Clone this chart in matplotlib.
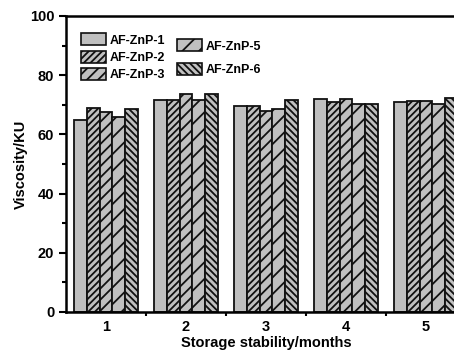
import matplotlib.pyplot as plt
import numpy as np
from matplotlib.patches import Patch

plt.rcParams['font.family'] = ['Liberation Sans', 'DejaVu Sans']
plt.rcParams['font.weight'] = 'bold'
plt.rcParams['hatch.linewidth'] = 1.3
plt.rcParams['hatch.color'] = '#111111'

months = [1, 2, 3, 4, 5]
series = ['AF-ZnP-1', 'AF-ZnP-2', 'AF-ZnP-3', 'AF-ZnP-5', 'AF-ZnP-6']
znp1 = [64.7, 71.5, 69.5, 72.0, 71.1]
znp2 = [68.9, 71.5, 69.7, 71.0, 71.4]
znp3 = [67.7, 73.8, 68.0, 72.0, 71.4]
znp5 = [65.9, 71.5, 68.7, 70.1, 70.3]
znp6 = [68.5, 73.8, 71.5, 70.2, 72.2]

values = [znp1, znp2, znp3, znp5, znp6]
hatches = ['', '/////', '///', '//', '\\\\\\\\\\']
colors = '#c0c0c0'

fig = plt.figure(figsize=(4.54, 3.5), dpi=100)
ax = fig.add_axes([0.1454, 0.1086, 0.881, 0.8457])

width = 0.16
x = np.array(months)
handles = []
for i, (vals, h) in enumerate(zip(values, hatches)):
    pos = x + (i - 2) * width
    ax.bar(pos, vals, width, color=colors, edgecolor='#111111', hatch=h, linewidth=1.3)
    handles.append(Patch(facecolor=colors, edgecolor='#111111', hatch=h, linewidth=1.2, label=series[i]))

ax.set_xlim(0.5, 5.5)
ax.set_ylim(0, 100)
ax.set_xticks(months)
ax.set_xticks([1.5, 2.5, 3.5, 4.5], minor=True)
ax.tick_params(axis='x', which='major', length=0, labelsize=10.5, pad=6)
ax.tick_params(axis='x', which='minor', length=3, width=1.5, direction='out')
ax.set_yticks(range(0, 101, 20))
ax.set_yticks(range(10, 100, 20), minor=True)
ax.tick_params(axis='y', which='major', length=5, width=1.5, labelsize=10.5)
ax.tick_params(axis='y', which='minor', length=3, width=1.5)
for s in ax.spines.values():
    s.set_linewidth(1.8)

ax.set_xlabel('Storage stability/months', fontsize=10.5, fontweight='bold', labelpad=1)
ax.set_ylabel('Viscosity/KU', fontsize=10.5, fontweight='bold', labelpad=1)

leg1 = ax.legend(handles=handles[:3], loc='upper left', bbox_to_anchor=(0.025, 0.958),
                 frameon=False, fontsize=9, handlelength=2.0, handleheight=1.1,
                 labelspacing=0.32, handletextpad=0.3, borderaxespad=0)
ax.add_artist(leg1)
ax.legend(handles=handles[3:], loc='upper left', bbox_to_anchor=(0.265, 0.938),
          frameon=False, fontsize=9, handlelength=2.0, handleheight=1.1,
          labelspacing=0.8, handletextpad=0.3, borderaxespad=0)

plt.savefig('out.png', dpi=100)
